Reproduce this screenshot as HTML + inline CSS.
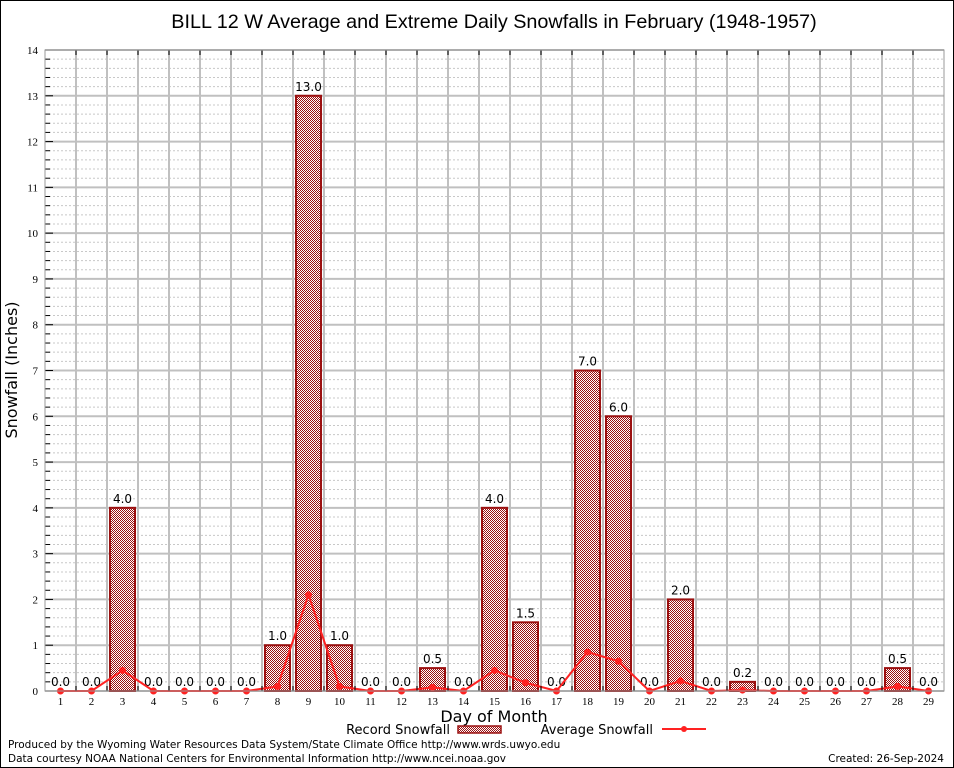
<!DOCTYPE html>
<html><head><meta charset="utf-8"><style>
body{margin:0;background:#fff}
svg{display:block;font-family:"DejaVu Sans","Liberation Sans",sans-serif}
</style></head><body>
<svg id="chart" width="954" height="768" viewBox="0 0 954 768">
<defs>
<pattern id="chk" width="2" height="2" patternUnits="userSpaceOnUse">
<rect width="2" height="2" fill="#fff"/><rect width="1" height="1" fill="#9b1010"/><rect x="1" y="1" width="1" height="1" fill="#9b1010"/>
</pattern>
</defs>
<rect x="0.5" y="0.5" width="953" height="767" fill="#fff" stroke="#000"/>
<text x="494" y="28" font-size="19.8" text-anchor="middle" font-family="Liberation Sans">BILL 12 W Average and Extreme Daily Snowfalls in February (1948-1957)</text>
<g id="grid"></g>
<g id="bars"></g>
<g id="line"></g>
<g id="axes"></g>
<text x="17" y="370" font-size="16" text-anchor="middle" transform="rotate(-90 17 370)">Snowfall (Inches)</text>
<text x="494" y="722" font-size="16" text-anchor="middle">Day of Month</text>
<g>
<text x="450" y="734" font-size="13" text-anchor="end">Record Snowfall</text>
<rect x="458" y="726" width="43" height="7" fill="url(#chk)" stroke="#9b1010" stroke-width="1.5"/>
<text x="653" y="734" font-size="13" text-anchor="end">Average Snowfall</text>
<line x1="662" y1="729" x2="706" y2="729" stroke="#f22" stroke-width="2"/>
<circle cx="684" cy="729" r="3" fill="#f22"/>
</g>
<text x="8" y="748" font-size="10.5">Produced by the Wyoming Water Resources Data System/State Climate Office http://www.wrds.uwyo.edu</text>
<text x="8" y="762" font-size="10.5">Data courtesy NOAA National Centers for Environmental Information http://www.ncei.noaa.gov</text>
<text x="944" y="762" font-size="10.5" text-anchor="end">Created: 26-Sep-2024</text>
</svg>
<script>
const days=[1,2,3,4,5,6,7,8,9,10,11,12,13,14,15,16,17,18,19,20,21,22,23,24,25,26,27,28,29];
const recordVals=[0,0,4,0,0,0,0,1,13,1,0,0,0.5,0,4,1.5,0,7,6,0,2,0,0.2,0,0,0,0,0.5,0];
const avgVals=[0,0,0.45,0,0,0,0,0.1,2.1,0.1,0,0,0.08,0,0.45,0.18,0,0.85,0.65,0,0.22,0,0.02,0,0,0,0,0.1,0];
const yTicks=[0,1,2,3,4,5,6,7,8,9,10,11,12,13,14];
const L=45,R=944,T=50,B=691,YMAX=14;
const slot=(R-L)/days.length;
const x=d=>L+(d-0.5)*slot;
const y=v=>B-v/YMAX*(B-T);
const NS='http://www.w3.org/2000/svg';
function mk(tag,attrs,parent){const e=document.createElementNS(NS,tag);for(const k in attrs)e.setAttribute(k,attrs[k]);parent.appendChild(e);return e;}
const grid=document.getElementById('grid'),bars=document.getElementById('bars'),line=document.getElementById('line'),axes=document.getElementById('axes');
for(let v=0.2;v<YMAX;v+=0.2){if(Math.abs(v-Math.round(v))<0.01)continue;
 const g=mk('line',{x1:L,x2:R,y1:y(v),y2:y(v),stroke:'#c8c8c8','stroke-width':1,'stroke-dasharray':'2,2'},grid);
 
 
 const mt=mk('line',{x1:L,x2:L+5,y1:y(v),y2:y(v),stroke:'#000'},axes);
 
 }
yTicks.forEach(v=>{const g=mk('line',{x1:L,x2:R,y1:y(v),y2:y(v),stroke:'#c0c0c0','stroke-width':2},grid);
 
 
 const mt=mk('line',{x1:L,x2:L+8,y1:y(v),y2:y(v),stroke:'#000'},axes);
 
 
 const t=mk('text',{x:L-7,y:y(v)+4,'font-size':11,'text-anchor':'end','font-family':'Liberation Serif'},axes);t.textContent=v;
 
 });
for(let i=1;i<days.length;i++){const g=mk('line',{x1:L+i*slot,x2:L+i*slot,y1:T,y2:B,stroke:'#c0c0c0','stroke-width':2},grid);
 
 
 const tk=mk('line',{x1:L+i*slot,x2:L+i*slot,y1:B,y2:B-5,stroke:'#000'},axes);
 
 
 const tk2=mk('line',{x1:L+i*slot,x2:L+i*slot,y1:T,y2:T+5,stroke:'#000'},axes);
 
 }
const fr=mk('rect',{x:L,y:T,width:R-L,height:B-T,fill:'none',stroke:'#999','stroke-width':1},axes);


days.forEach((d,i)=>{const v=recordVals[i];
 if(v>0){const r=mk('rect',{x:x(d)-12.5,y:y(v),width:25,height:B-y(v),fill:'url(#chk)',stroke:'#9b1010','stroke-width':2},bars);
  
  }
 const t=mk('text',{x:x(d),y:y(v)-5,'font-size':12,'text-anchor':'middle','font-family':'DejaVu Sans'},bars);t.textContent=v.toFixed(1);
 
 
 const tl=mk('text',{x:x(d),y:B+14,'font-size':11,'text-anchor':'middle','font-family':'Liberation Serif'},axes);tl.textContent=d;
 
 });
const pl=mk('polyline',{points:days.map((d,i)=>x(d)+','+y(avgVals[i])).join(' '),fill:'none',stroke:'#f22','stroke-width':2},line);


days.forEach((d,i)=>{const c=mk('circle',{cx:x(d),cy:y(avgVals[i]),r:3.5,fill:'#f22'},line);
 
 });
</script>
</body></html>
